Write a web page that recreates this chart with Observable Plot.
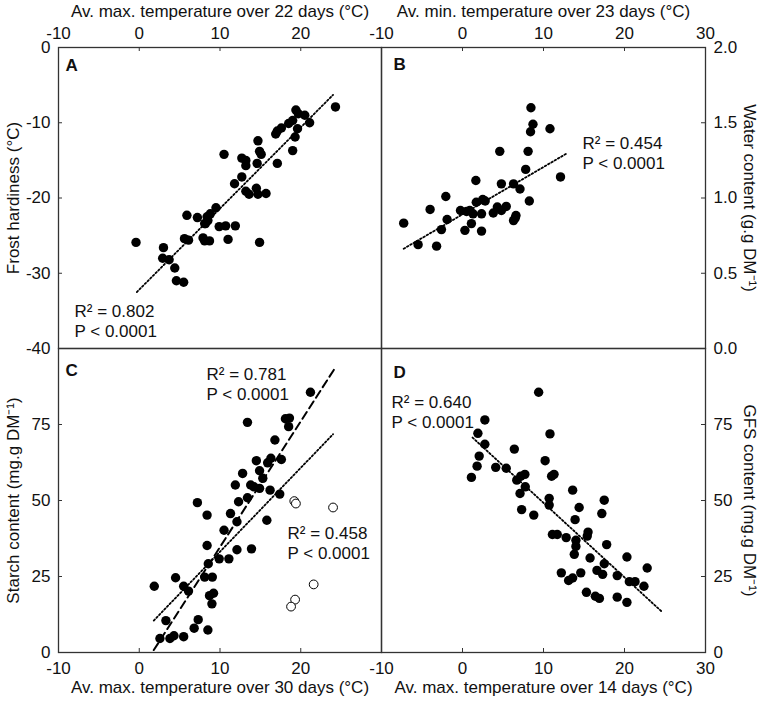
<!DOCTYPE html>
<html><head><meta charset="utf-8">
<script src="https://cdn.jsdelivr.net/npm/d3@7"></script>
<script src="https://cdn.jsdelivr.net/npm/@observablehq/plot@0.6"></script>
<style>
body{margin:0;background:#fff;}
#chart{position:relative;width:765px;height:701px;background:#fff;}
#chart svg{position:absolute;left:0;top:0;}
</style></head><body><div id="chart"></div>
<script>
// ---- tick values ----
const xTicksLeft = [-10, 0, 10, 20];
const xTicksRight = [-10, 0, 10, 20, 30];
const yTicksA = [0, -10, -20, -30, -40];
const yTicksB = [2.0, 1.5, 1.0, 0.5, 0.0];
const yTicksC = [0, 25, 50, 75];
const yTicksD = [0, 25, 50, 75];

// ---- axis titles ----
const titleTopA = "Av. max. temperature over 22 days (°C)";
const titleTopB = "Av. min. temperature over 23 days (°C)";
const titleBottomC = "Av. max. temperature over 30 days (°C)";
const titleBottomD = "Av. max. temperature over 14 days (°C)";
const titleA = "Frost hardiness (°C)";
const titleB = "Water content (g.g DM⁻¹)";
const titleC = "Starch content (mg.g DM⁻¹)";
const titleD = "GFS content (mg.g DM⁻¹)";

// ---- panel A: frost hardiness vs av. max temp 22 days ----
const pointsA = [[-0.4,-25.9],[3.0,-26.6],[2.9,-28.0],[3.7,-28.2],[4.4,-29.3],[4.6,-31.0],[5.5,-31.2],[5.6,-25.4],[6.1,-25.6],[5.9,-22.3],[7.2,-22.6],[7.9,-25.3],[8.1,-25.7],[8.7,-25.7],[8.1,-23.4],[8.5,-23.0],[8.8,-22.1],[9.5,-21.3],[9.9,-23.8],[10.7,-23.7],[11.9,-23.7],[11.0,-25.5],[14.9,-25.9],[10.5,-14.2],[11.8,-18.1],[12.7,-17.2],[12.7,-14.7],[13.2,-15.0],[13.2,-15.7],[13.2,-19.1],[13.6,-19.5],[14.5,-18.7],[14.7,-19.5],[15.7,-19.4],[14.6,-15.4],[14.7,-12.4],[14.9,-13.8],[15.1,-14.2],[17.1,-15.4],[16.9,-11.5],[17.1,-11.1],[17.6,-10.7],[18.5,-10.1],[19.0,-9.7],[19.4,-8.3],[19.7,-8.8],[20.5,-9.0],[21.1,-10.0],[19.6,-10.8],[19.3,-11.9],[19.0,-13.7],[24.3,-7.9],[8.4,-22.5],[8.2,-23.4]];
const fitAx = [-0.3, 24.0];
const fitAy = [-32.5, -6.3];
const statA = ["R² = 0.802\nP < 0.0001"];

// ---- panel B: water content vs av. min temp 23 days ----
const pointsB = [[-7.26,0.833],[-5.48,0.69],[-3.2,0.68],[-4.0,0.924],[-2.6,0.79],[-2.06,1.01],[-1.9,0.857],[-0.25,0.917],[0.3,0.785],[0.9,0.917],[1.1,0.83],[1.65,1.116],[1.7,0.972],[1.3,0.895],[2.35,0.895],[2.5,0.99],[2.35,0.78],[4.6,1.31],[4.8,1.094],[3.8,0.90],[4.3,0.94],[4.8,0.917],[5.4,0.944],[6.3,1.094],[7.1,1.06],[6.6,0.884],[6.3,0.85],[8.1,1.31],[7.8,1.19],[8.25,0.98],[8.4,1.44],[8.7,1.49],[8.45,1.60],[10.8,1.46],[12.1,1.14],[0.5,0.91],[2.8,0.98],[6.5,0.866]];
const fitBx = [-7.26, 12.9];
const fitBy = [0.663, 1.297];
const statB = ["R² = 0.454\nP < 0.0001"];

// ---- panel C: starch content vs av. max temp 30 days ----
const pointsC = [[1.86,21.8],[2.56,4.6],[3.3,10.5],[3.8,4.6],[4.3,5.5],[4.5,24.6],[5.5,21.8],[6.1,20.2],[5.5,5.2],[6.8,8.0],[7.3,10.8],[7.2,49.3],[8.5,7.4],[8.4,45.2],[8.4,35.2],[8.55,29.2],[8.1,24.8],[9.05,24.8],[8.7,18.7],[9.2,19.5],[9.0,16.0],[9.9,30.8],[10.5,40.2],[11.1,30.8],[11.3,45.7],[11.9,55.1],[12.1,43.0],[12.1,33.8],[12.3,49.6],[12.8,58.9],[13.4,75.7],[13.4,50.9],[13.9,34.1],[13.8,55.1],[14.2,54.5],[14.5,63.1],[14.9,59.8],[14.9,54.0],[15.3,57.3],[15.8,43.5],[15.9,62.4],[16.3,63.9],[16.2,53.4],[16.8,69.9],[17.4,52.1],[17.6,63.5],[18.1,76.9],[18.6,77.1],[18.5,74.3],[21.2,85.6]];
const openC = [[19.2,49.8],[19.4,49.0],[24.0,47.7],[21.6,22.4],[19.3,17.4],[18.8,15.1]];
const fitC1x = [1.8, 24.2];
const fitC1y = [0.8, 93.4];
const fitC2x = [1.8, 24.0];
const fitC2y = [10.5, 71.8];
const statC1 = ["R² = 0.781\nP < 0.0001"];
const statC2 = ["R² = 0.458\nP < 0.0001"];

// ---- panel D: GFS content vs av. max temp 14 days ----
const pointsD = [[1.1,57.6],[1.8,61.3],[2.06,64.6],[1.9,72.1],[2.76,68.5],[2.76,76.5],[4.1,60.9],[5.4,60.6],[6.4,66.9],[6.7,56.7],[7.2,58.0],[7.7,58.6],[7.75,54.5],[7.1,52.3],[7.3,47.0],[8.8,45.2],[9.4,85.6],[10.2,63.1],[10.8,71.9],[11.0,58.0],[11.3,58.6],[10.7,50.7],[10.7,48.5],[11.1,38.8],[11.7,38.8],[12.8,37.8],[12.2,26.2],[13.1,23.7],[13.6,24.5],[13.6,53.4],[13.9,43.7],[14.0,36.9],[14.0,34.9],[13.8,32.3],[14.4,47.7],[14.6,26.2],[15.3,19.8],[15.5,39.6],[15.4,38.3],[15.75,31.1],[16.4,18.5],[16.9,17.8],[16.6,27.0],[17.3,25.7],[17.5,29.2],[17.2,45.7],[17.5,50.1],[17.8,35.5],[19.1,25.3],[19.1,18.2],[20.3,31.4],[20.3,16.5],[20.6,23.3],[21.3,23.3],[22.4,21.8],[22.8,27.8]];
const fitDx = [1.24, 24.7];
const fitDy = [70.7, 13.2];
const statD = ["R² = 0.640\nP < 0.0001"];

const letters = ["A", "B", "C", "D"];

// ---- layout ----
const W = 765, H = 701;
const X0 = 58, X1 = 381, X2 = 705;
const Y0 = 47, Y1 = 348, Y2 = 652;
const INK = "#333";
const FS = 17;
const FONT = "'Liberation Sans', Arial, Helvetica, sans-serif";
const fmtInt = d => String(d);
const fmt1 = d => d.toFixed(1);
const zip = (xs, ys) => xs.map((x, i) => ({x, y: ys[i]}));

function panel(o) {
  const fw = o.right - o.left, fh = o.bottom - o.top;
  const marks = [];
  marks.push(Plot.frame({stroke: INK, strokeWidth: 1.3}));
  // inward ticks on the labelled sides
  if (o.xAnchor === "top") marks.push(Plot.tickX(o.xTicks, {x: d => d, insetBottom: fh - 4, stroke: INK}));
  else marks.push(Plot.tickX(o.xTicks, {x: d => d, insetTop: fh - 4, stroke: INK}));
  if (o.yAnchor === "left") marks.push(Plot.tickY(o.yTicks, {y: d => d, insetRight: fw - 4, stroke: INK}));
  else marks.push(Plot.tickY(o.yTicks, {y: d => d, insetLeft: fw - 4, stroke: INK}));
  marks.push(Plot.axisX(o.xTicks, {anchor: o.xAnchor, tickSize: 0, tickPadding: o.xAnchor === "top" ? 9 : 9,
    tickFormat: fmtInt, label: o.xLabel, labelAnchor: "center", labelArrow: "none",
    labelOffset: o.xAnchor === "top" ? 43 : 40, fill: "#111"}));
  marks.push(Plot.axisY(o.yTicks, {anchor: o.yAnchor, tickSize: 0, tickPadding: 8,
    tickFormat: o.yFormat, label: o.yAnchor === "left" ? o.yLabel : null, labelAnchor: "center", labelArrow: "none",
    labelOffset: 52, fill: "#111"}));
  if (o.yAnchor === "right") {
    marks.push(Plot.text([o.yLabel], {frameAnchor: "right", rotate: 90, dx: 44, textAnchor: "middle",
      lineAnchor: "middle", fontSize: FS, fill: "#111"}));
  }
  marks.push(...o.extra);
  return Plot.plot({
    width: W, height: H,
    marginLeft: o.left, marginRight: W - o.right, marginTop: o.top, marginBottom: H - o.bottom,
    x: {domain: [-10, 30]},
    y: {domain: o.yDomain},
    style: {fontSize: FS + "px", fontFamily: FONT, color: "#111", background: "transparent", overflow: "visible"},
    marks
  });
}

const dotStyle = {r: 4.7, fill: "#000", stroke: "none"};
const dotted = {stroke: "#000", strokeWidth: 1.8, strokeDasharray: "1.6,2.2"};
const statStyle = {frameAnchor: "top-left", textAnchor: "start", lineAnchor: "top", lineHeight: 1.18, fontSize: FS, fill: "#111"};
const letterStyle = {frameAnchor: "top-left", textAnchor: "start", lineAnchor: "top", fontSize: FS, fontWeight: "bold", fill: "#111"};

const A = panel({
  left: X0, right: X1, top: Y0, bottom: Y1, yDomain: [-40, 0],
  xTicks: xTicksLeft, yTicks: yTicksA, xAnchor: "top", yAnchor: "left",
  xLabel: titleTopA, yLabel: titleA, yFormat: fmtInt,
  extra: [
    Plot.line(zip(fitAx, fitAy), {x: "x", y: "y", ...dotted}),
    Plot.dot(pointsA, {x: d => d[0], y: d => d[1], ...dotStyle}),
    Plot.text(statA, {...statStyle, dx: 16, dy: 255}),
    Plot.text([letters[0]], {...letterStyle, dx: 7, dy: 11})
  ]
});
const B = panel({
  left: X1, right: X2, top: Y0, bottom: Y1, yDomain: [0, 2],
  xTicks: xTicksRight, yTicks: yTicksB, xAnchor: "top", yAnchor: "right",
  xLabel: titleTopB, yLabel: titleB, yFormat: fmt1,
  extra: [
    Plot.line(zip(fitBx, fitBy), {x: "x", y: "y", ...dotted}),
    Plot.dot(pointsB, {x: d => d[0], y: d => d[1], ...dotStyle}),
    Plot.text(statB, {...statStyle, dx: 201, dy: 87}),
    Plot.text([letters[1]], {...letterStyle, dx: 12, dy: 10})
  ]
});
const C = panel({
  left: X0, right: X1, top: Y1, bottom: Y2, yDomain: [0, 100],
  xTicks: xTicksLeft, yTicks: yTicksC, xAnchor: "bottom", yAnchor: "left",
  xLabel: titleBottomC, yLabel: titleC, yFormat: fmtInt,
  extra: [
    Plot.line(zip(fitC2x, fitC2y), {x: "x", y: "y", ...dotted}),
    Plot.line(zip(fitC1x, fitC1y), {x: "x", y: "y", stroke: "#000", strokeWidth: 2, strokeDasharray: "8,4.5"}),
    Plot.dot(pointsC, {x: d => d[0], y: d => d[1], ...dotStyle}),
    Plot.dot(openC, {x: d => d[0], y: d => d[1], r: 4.4, fill: "#fff", stroke: "#000", strokeWidth: 1}),
    Plot.text(statC1, {...statStyle, dx: 148, dy: 17}),
    Plot.text(statC2, {...statStyle, dx: 229, dy: 176}),
    Plot.text([letters[2]], {...letterStyle, dx: 7, dy: 15})
  ]
});
const D = panel({
  left: X1, right: X2, top: Y1, bottom: Y2, yDomain: [0, 100],
  xTicks: xTicksRight, yTicks: yTicksD, xAnchor: "bottom", yAnchor: "right",
  xLabel: titleBottomD, yLabel: titleD, yFormat: fmtInt,
  extra: [
    Plot.line(zip(fitDx, fitDy), {x: "x", y: "y", ...dotted}),
    Plot.dot(pointsD, {x: d => d[0], y: d => d[1], ...dotStyle}),
    Plot.text(statD, {...statStyle, dx: 10, dy: 45}),
    Plot.text([letters[3]], {...letterStyle, dx: 12, dy: 17})
  ]
});
const host = document.getElementById("chart");
[A, B, C, D].forEach(s => host.appendChild(s));
</script></body></html>
